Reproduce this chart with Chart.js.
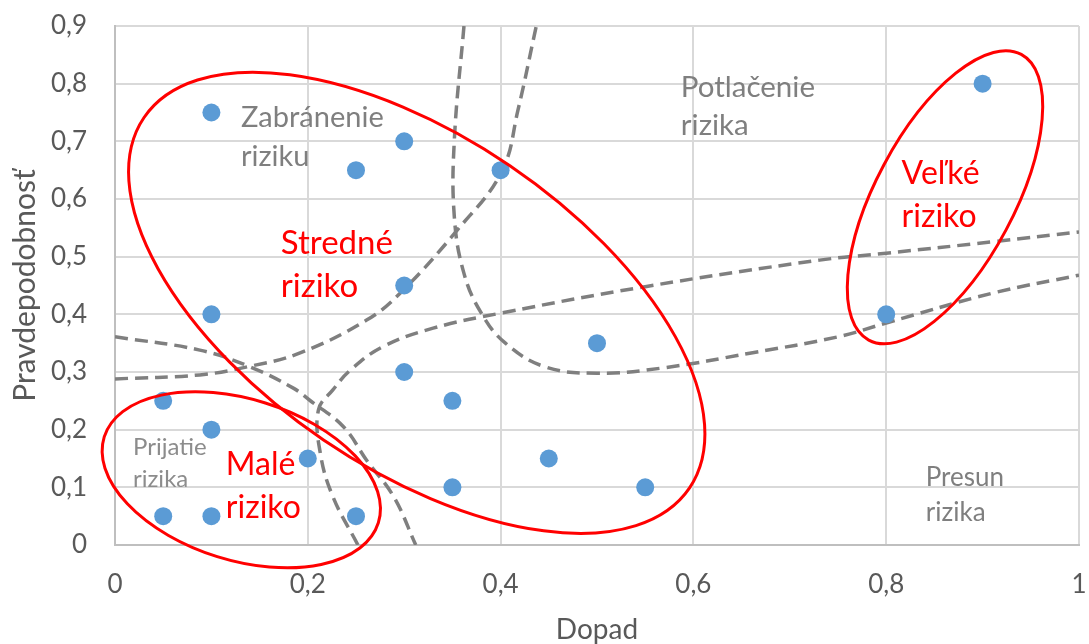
<!DOCTYPE html>
<html><head><meta charset="utf-8">
<script src="https://cdn.jsdelivr.net/npm/chart.js@4"></script>
<style>html,body{margin:0;padding:0;background:#fff}</style>
</head><body>
<canvas id="c" width="1089" height="644"></canvas>
<script>
// Risk points (Dopad = impact, Pravdepodobnosť = probability)
const pointX = [0.1, 0.25, 0.3, 0.4, 0.3, 0.1, 0.5, 0.3, 0.35, 0.05, 0.1, 0.2, 0.45, 0.35, 0.55, 0.05, 0.1, 0.25, 0.8, 0.9];
const pointY = [0.75, 0.65, 0.7, 0.65, 0.45, 0.4, 0.35, 0.3, 0.25, 0.25, 0.2, 0.15, 0.15, 0.1, 0.1, 0.05, 0.05, 0.05, 0.4, 0.8];

// Dashed boundary curves
const curveAX = [0, 0.088, 0.14, 0.192, 0.261, 0.296, 0.355, 0.401, 0.418, 0.437];
const curveAY = [0.288, 0.295, 0.31, 0.333, 0.39, 0.437, 0.546, 0.647, 0.754, 0.9];
const curveBX = [0.362, 0.352, 0.352, 0.362, 0.38, 0.405, 0.446, 0.5, 0.568, 0.66, 0.75, 0.8, 0.911, 1.0];
const curveBY = [0.9, 0.702, 0.569, 0.471, 0.402, 0.35, 0.309, 0.298, 0.307, 0.333, 0.361, 0.385, 0.437, 0.468];
const curveCX = [0, 0.088, 0.14, 0.185, 0.202, 0.237, 0.261, 0.289, 0.312];
const curveCY = [0.361, 0.338, 0.309, 0.272, 0.251, 0.205, 0.147, 0.084, 0.0];
const curveDX = [0.252, 0.226, 0.213, 0.211, 0.226, 0.244, 0.278, 0.33, 0.40, 0.55, 0.731, 0.80, 0.911, 1.0];
const curveDY = [0.0, 0.084, 0.159, 0.234, 0.269, 0.303, 0.344, 0.376, 0.402, 0.448, 0.494, 0.506, 0.526, 0.543];

// Tick labels
const xTickLabels = ['0', '0,2', '0,4', '0,6', '0,8', '1'];
const yTickLabels = ['0', '0,1', '0,2', '0,3', '0,4', '0,5', '0,6', '0,7', '0,8', '0,9'];

// Red risk-zone ellipses: centre (data), semi-axes (x-axis units), rotation (deg)
const ellipseCX = [0.313, 0.131, 0.861];
const ellipseCY = [0.42, 0.113, 0.603];
const ellipseA = [0.342, 0.149, 0.168];
const ellipseB = [0.172, 0.0835, 0.0718];
const ellipseRot = [34.2, 17.4, -61.9];

// Text labels
const labelText = [['Zabránenie', 'riziku'], ['Potlačenie', 'rizika'], ['Prijatie', 'rizika'], ['Presun', 'rizika'],
                   ['Stredné', 'riziko'], ['Malé', 'riziko'], ['Veľké', 'riziko']];
const labelX = [0.1307, 0.587, 0.0187, 0.841, 0.172, 0.115, 0.816];
const labelY = [0.725, 0.777, 0.156, 0.103, 0.505, 0.121, 0.626];

const FONT = 'Lato';
const labelStyle = [
  {color: '#7f7f7f', size: 29, lh: 39}, {color: '#7f7f7f', size: 29.5, lh: 38},
  {color: '#8c8c8c', size: 24, lh: 32}, {color: '#7f7f7f', size: 26, lh: 35},
  {color: '#ff0000', size: 33, lh: 43}, {color: '#ff0000', size: 32, lh: 43}, {color: '#ff0000', size: 32, lh: 43}
];

const toPts = (xs, ys) => xs.map((x, i) => ({x: x, y: ys[i]}));

const overlay = {
  id: 'overlay',
  afterDatasetsDraw(chart) {
    const ctx = chart.ctx, sx = chart.scales.x, sy = chart.scales.y;
    const unit = sx.getPixelForValue(1) - sx.getPixelForValue(0);
    ctx.save();
    ctx.strokeStyle = '#ff0000';
    ctx.lineWidth = 3;
    for (let i = 0; i < ellipseCX.length; i++) {
      ctx.beginPath();
      ctx.ellipse(sx.getPixelForValue(ellipseCX[i]), sy.getPixelForValue(ellipseCY[i]),
        ellipseA[i] * unit, ellipseB[i] * unit, ellipseRot[i] * Math.PI / 180, 0, Math.PI * 2);
      ctx.stroke();
    }
    ctx.textAlign = 'left';
    ctx.textBaseline = 'alphabetic';
    for (let i = 0; i < labelText.length; i++) {
      const st = labelStyle[i];
      ctx.fillStyle = st.color;
      ctx.font = st.size + 'px ' + FONT;
      const px = sx.getPixelForValue(labelX[i]), py = sy.getPixelForValue(labelY[i]);
      labelText[i].forEach((t, k) => ctx.fillText(t, px, py + k * st.lh));
    }
    ctx.restore();
  }
};

const dashed = (xs, ys) => ({
  data: toPts(xs, ys), showLine: true, tension: 0.4, pointRadius: 0, pointHoverRadius: 0,
  borderColor: '#7f7f7f', borderWidth: 3.5, borderDash: [13, 7], fill: false
});

new Chart(document.getElementById('c'), {
  type: 'scatter',
  data: {
    datasets: [
      {data: toPts(pointX, pointY), pointRadius: 9, pointBackgroundColor: '#5b9bd5', pointBorderWidth: 0, backgroundColor: '#5b9bd5', borderWidth: 0},
      dashed(curveAX, curveAY), dashed(curveBX, curveBY), dashed(curveCX, curveCY), dashed(curveDX, curveDY)
    ]
  },
  options: {
    responsive: false, animation: false, devicePixelRatio: 1,
    layout: {padding: {top: 26, right: 10, left: 0, bottom: 0}},
    plugins: {legend: {display: false}, tooltip: {enabled: false}},
    scales: {
      x: {
        type: 'linear', min: 0, max: 1,
        afterFit: s => { s.height = 99; s.paddingLeft = 0; s.paddingRight = 0; },
        ticks: {stepSize: 0.2, color: '#595959', font: {family: FONT, size: 26}, padding: 24,
                maxRotation: 0, callback: (v, i) => xTickLabels[i]},
        grid: {color: '#d9d9d9', lineWidth: 2, drawTicks: false},
        border: {color: '#bfbfbf', width: 2},
        title: {display: true, text: 'Dopad', color: '#595959', font: {family: FONT, size: 28, lineHeight: 1}, padding: {top: 0, bottom: 0}}
      },
      y: {
        type: 'linear', min: 0, max: 0.9,
        afterFit: s => { s.width = 115; s.paddingTop = 0; s.paddingBottom = 0; },
        ticks: {stepSize: 0.1, color: '#595959', font: {family: FONT, size: 26}, padding: 28,
                callback: (v, i) => yTickLabels[i]},
        grid: {color: '#d9d9d9', lineWidth: 2, drawTicks: false},
        border: {color: '#bfbfbf', width: 2},
        title: {display: true, text: 'Pravdepodobnosť', color: '#595959', font: {family: FONT, size: 30, lineHeight: 1}, padding: {top: 10, bottom: 0}}
      }
    }
  },
  plugins: [overlay]
});
</script>
</body></html>
